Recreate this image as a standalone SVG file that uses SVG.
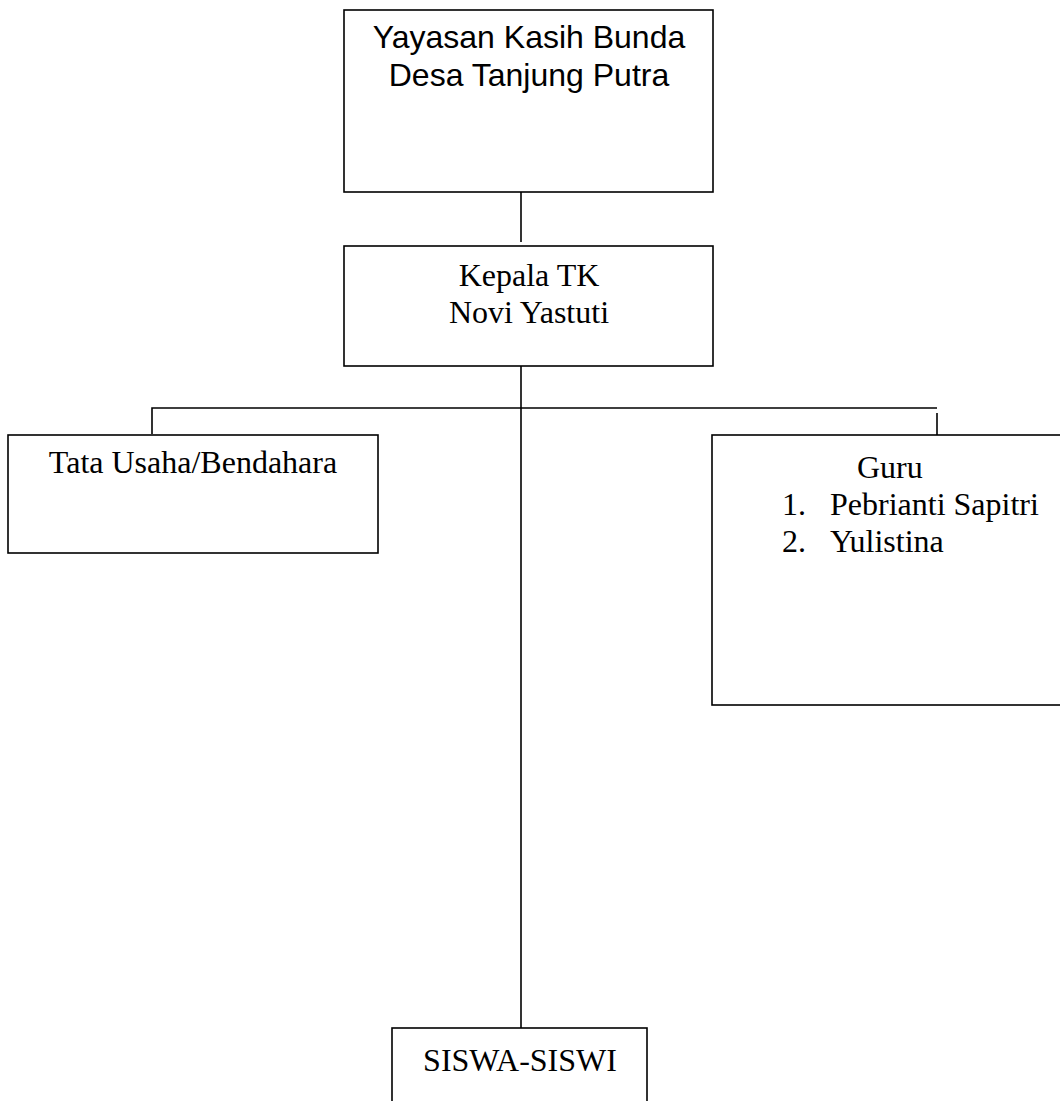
<svg xmlns="http://www.w3.org/2000/svg" width="1060" height="1101" viewBox="0 0 1060 1101">
<style>
.box{fill:#fff;stroke:#000;stroke-width:1.6}
.ln{stroke:#000;stroke-width:1.6;fill:none}
.sans{font-family:"Liberation Sans",Arial,sans-serif;font-size:32px;fill:#000}
.serif{font-family:"Liberation Serif","Times New Roman",serif;font-size:32px;fill:#000}
</style>
<rect width="1060" height="1101" fill="#fff"/>
<g id="connectors">
<line class="ln" x1="521" y1="192" x2="521" y2="242"/>
<line class="ln" x1="521" y1="360" x2="521" y2="1032"/>
<polyline class="ln" points="152,434 152,408 937,408"/>
<line class="ln" x1="937" y1="413" x2="937" y2="438"/>
</g>
<g id="yayasan">
<rect class="box" x="344" y="10" width="369" height="182"/>
<text class="sans" x="529" y="48" text-anchor="middle">Yayasan Kasih Bunda</text>
<text class="sans" x="529" y="86" text-anchor="middle">Desa Tanjung Putra</text>
</g>
<g id="kepala">
<rect class="box" x="344" y="246" width="369" height="120"/>
<text class="serif" x="529" y="286" text-anchor="middle">Kepala TK</text>
<text class="serif" x="529" y="323" text-anchor="middle">Novi Yastuti</text>
</g>
<g id="tatausaha">
<rect class="box" x="8" y="435" width="370" height="118"/>
<text class="serif" x="193" y="473" text-anchor="middle">Tata Usaha/Bendahara</text>
</g>
<g id="guru">
<rect class="box" x="712" y="435" width="360" height="270"/>
<text class="serif" x="857" y="478">Guru</text>
<text class="serif" x="782" y="515">1.</text>
<text class="serif" x="830" y="515">Pebrianti Sapitri</text>
<text class="serif" x="782" y="552">2.</text>
<text class="serif" x="830" y="552">Yulistina</text>
</g>
<g id="siswa">
<rect class="box" x="392" y="1028" width="255" height="90"/>
<text class="serif" x="520" y="1071" text-anchor="middle">SISWA-SISWI</text>
</g>
</svg>
